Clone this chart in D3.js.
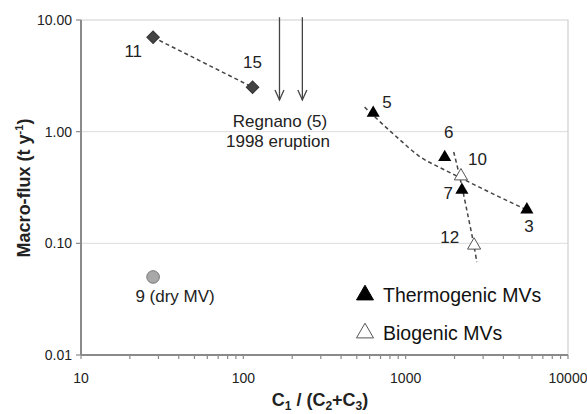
<!DOCTYPE html>
<html><head><meta charset="utf-8">
<script src="https://cdn.jsdelivr.net/npm/d3@7"></script>
<style>body{margin:0;background:#fff}svg{display:block;font-family:"Liberation Sans",Arial,sans-serif}</style>
</head><body><svg id="c" width="587" height="414"></svg>
<script>
// ---- data ----
const xTicks = [10, 100, 1000, 10000];
const yTicks = [0.01, 0.1, 1, 10];
const yTickLabels = ["0.01", "0.10", "1.00", "10.00"];
const dryIds = ["11", "15"];
const dryX = [27.8, 114];
const dryY = [7.0, 2.5];
const thermoIds = ["5", "6", "7", "3"];
const thermoX = [631, 1740, 2220, 5580];
const thermoY = [1.47, 0.59, 0.30, 0.20];
const bioIds = ["10", "12"];
const bioX = [2190, 2640];
const bioY = [0.40, 0.096];
const dryMVId = ["9 (dry MV)"];
const dryMVX = [27.8];
const dryMVY = [0.05];
const thermoTrendX = [558, 631, 893, 1238, 1644, 2185, 3350, 5580];
const thermoTrendY = [1.66, 1.40, 0.88, 0.59, 0.473, 0.385, 0.283, 0.199];
const bioTrendX = [1977, 2155, 2380, 2630, 2742];
const bioTrendY = [0.658, 0.393, 0.199, 0.097, 0.068];
const eruptionX = [167, 231];
const eruptionTop = 10.6, eruptionBottom = 1.92;
const eruptionText = ["Regnano (5)", "1998 eruption"];
const legendItems = ["Thermogenic MVs", "Biogenic MVs"];

// ---- chart ----
const svg = d3.select("#c");
const L = 81, R = 568, T = 20, B = 355;
const x = d3.scaleLog().domain([10, 10000]).range([L, R]);
const y = d3.scaleLog().domain([0.01, 10]).range([B, T]);

// gridlines
svg.append("g").selectAll("line").data([0.1, 1]).join("line")
  .attr("x1", L).attr("x2", R).attr("y1", d => y(d)).attr("y2", d => y(d))
  .attr("stroke", "#dcdcdc").attr("stroke-width", 1);
// top & right border
svg.append("path").attr("d", `M${L},${y(10)}H${R}V${B}`).attr("fill", "none")
  .attr("stroke", "#cfcfcf").attr("stroke-width", 1.2);

// axes
const xMinor = [];
for (let e = 1; e < 4; e++) for (let m = 1; m < 10; m++) xMinor.push(m * Math.pow(10, e));
xMinor.push(10000);
svg.append("g").selectAll("line").data(xMinor).join("line")
  .attr("x1", d => x(d)).attr("x2", d => x(d)).attr("y1", B).attr("y2", B + 4)
  .attr("stroke", "#8a8a8a").attr("stroke-width", 1.2);
svg.append("line").attr("x1", L).attr("x2", R).attr("y1", B).attr("y2", B)
  .attr("stroke", "#8a8a8a").attr("stroke-width", 2);
svg.append("g").selectAll("line").data(yTicks).join("line")
  .attr("x1", L - 5).attr("x2", L).attr("y1", d => y(d)).attr("y2", d => y(d))
  .attr("stroke", "#8a8a8a").attr("stroke-width", 1.2);
svg.append("line").attr("x1", L).attr("x2", L).attr("y1", T).attr("y2", B)
  .attr("stroke", "#8a8a8a").attr("stroke-width", 2);

svg.append("g").selectAll("text").data(xTicks).join("text")
  .attr("x", d => x(d)).attr("y", 383).attr("text-anchor", "middle")
  .attr("font-size", 14).attr("fill", "#222").text(d => d);
svg.append("g").selectAll("text").data(yTicks).join("text")
  .attr("x", 72).attr("y", d => y(d) + 5).attr("text-anchor", "end")
  .attr("font-size", 14).attr("fill", "#222").text((d, i) => yTickLabels[i]);

// axis titles
const xt = svg.append("text").attr("x", 320).attr("y", 406).attr("text-anchor", "middle")
  .attr("font-size", 18).attr("font-weight", "bold").attr("fill", "#222");
xt.append("tspan").text("C");
xt.append("tspan").attr("font-size", 12).attr("dy", 4).text("1");
xt.append("tspan").attr("dy", -4).text(" / (C");
xt.append("tspan").attr("font-size", 12).attr("dy", 4).text("2");
xt.append("tspan").attr("dy", -4).text("+C");
xt.append("tspan").attr("font-size", 12).attr("dy", 4).text("3");
xt.append("tspan").attr("dy", -4).text(")");
const yt = svg.append("text").attr("transform", "translate(30,188) rotate(-90)")
  .attr("text-anchor", "middle").attr("font-size", 18).attr("font-weight", "bold").attr("fill", "#222");
yt.append("tspan").text("Macro-flux (t y");
yt.append("tspan").attr("font-size", 11).attr("dy", -7).text("-1");
yt.append("tspan").attr("dy", 7).text(")");

// trend lines
const line = d3.line().x(d => x(d[0])).y(d => y(d[1])).curve(d3.curveMonotoneX);
const dash = g => g.attr("fill", "none").attr("stroke", "#444").attr("stroke-width", 1.5).attr("stroke-dasharray", "4,3");
svg.append("path").datum(dryX.map((v, i) => [v, dryY[i]])).attr("d", d3.line().x(d => x(d[0])).y(d => y(d[1]))).call(dash);
svg.append("path").datum(thermoTrendX.map((v, i) => [v, thermoTrendY[i]])).attr("d", line).call(dash);
svg.append("path").datum(bioTrendX.map((v, i) => [v, bioTrendY[i]]))
  .attr("d", d3.line().x(d => x(d[0])).y(d => y(d[1])).curve(d3.curveCatmullRom)).call(dash);

// eruption arrows
eruptionX.forEach(v => {
  const ax = x(v), y0 = y(eruptionTop), y1 = y(eruptionBottom);
  svg.append("line").attr("x1", ax).attr("x2", ax).attr("y1", y0).attr("y2", y1)
    .attr("stroke", "#444").attr("stroke-width", 1.3);
  svg.append("path").attr("d", `M${ax - 4.5},${y1 - 10}L${ax},${y1}L${ax + 4.5},${y1 - 10}`)
    .attr("fill", "none").attr("stroke", "#444").attr("stroke-width", 1.3);
});
svg.append("g").selectAll("text").data(eruptionText).join("text")
  .attr("x", (d, i) => i === 0 ? 280 : 278).attr("y", (d, i) => 127 + i * 20).attr("text-anchor", "middle")
  .attr("font-size", 17).attr("fill", "#222").text(d => d);

// markers
const diamond = d3.symbol().type(d3.symbolSquare).size(78)();
svg.append("g").selectAll("path").data(dryX).join("path")
  .attr("d", diamond).attr("transform", (d, i) => `translate(${x(d)},${y(dryY[i])}) rotate(45)`)
  .attr("fill", "#444").attr("stroke", "#333");
svg.append("g").selectAll("circle").data(dryMVX).join("circle")
  .attr("cx", d => x(d)).attr("cy", (d, i) => y(dryMVY[i])).attr("r", 6.3)
  .attr("fill", "#a8a8a8").attr("stroke", "#777").attr("stroke-width", 1);
const tri = d3.symbol().type(d3.symbolTriangle).size(75)();
svg.append("g").selectAll("path").data(thermoX).join("path")
  .attr("d", tri).attr("transform", (d, i) => `translate(${x(d)},${y(thermoY[i])})`)
  .attr("fill", "#000");
svg.append("g").selectAll("path").data(bioX).join("path")
  .attr("d", tri).attr("transform", (d, i) => `translate(${x(d)},${y(bioY[i])})`)
  .attr("fill", "#fff").attr("stroke", "#555").attr("stroke-width", 1);

// point labels
const lab = (txt, xv, yv, dx, dy, anchor) => svg.append("text")
  .attr("x", x(xv) + dx).attr("y", y(yv) + dy).attr("text-anchor", anchor || "middle")
  .attr("font-size", 17).attr("fill", "#222").text(txt);
lab(dryIds[0], dryX[0], dryY[0], -11, 20, "end");
lab(dryIds[1], dryX[1], dryY[1], 0, -19);
lab(thermoIds[0], thermoX[0], thermoY[0], 9, -5, "start");
lab(thermoIds[1], thermoX[1], thermoY[1], 4, -19);
lab(thermoIds[2], thermoX[2], thermoY[2], -9, 9, "end");
lab(thermoIds[3], thermoX[3], thermoY[3], 2, 22);
lab(bioIds[0], bioX[0], bioY[0], 7, -11, "start");
lab(bioIds[1], bioX[1], bioY[1], -15, -2, "end");
lab(dryMVId[0], dryMVX[0], dryMVY[0], 22, 25);

// legend
const legTri = d3.symbol().type(d3.symbolTriangle).size(125)();
legendItems.forEach((t, i) => {
  const ly = 295 + i * 38;
  svg.append("path").attr("d", legTri).attr("transform", `translate(365,${ly})`)
    .attr("fill", i === 0 ? "#000" : "#fff").attr("stroke", i === 0 ? "#000" : "#555").attr("stroke-width", 1);
  svg.append("text").attr("x", 383).attr("y", ly + 7).attr("font-size", 19.5).attr("fill", "#111").text(t);
});
</script></body></html>
